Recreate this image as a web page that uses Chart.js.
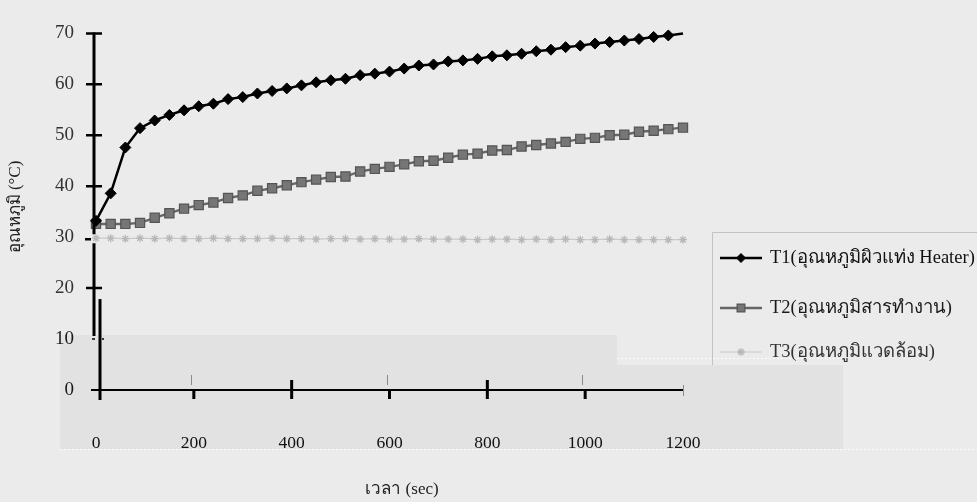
<!DOCTYPE html>
<html>
<head>
<meta charset="utf-8">
<script src="https://cdn.jsdelivr.net/npm/chart.js@4.4.0/dist/chart.umd.min.js"></script>
<style>
  html, body { margin: 0; padding: 0; background: #ebebeb; }
  canvas { display: block; }
</style>
</head>
<body>
<canvas id="chart" width="977" height="502"></canvas>
<script>
// Time axis (seconds) and the three measured temperatures (°C)
const timeSec = [0, 30, 60, 90, 120, 150, 180, 210, 240, 270, 300, 330, 360, 390, 420, 450, 480,
  510, 540, 570, 600, 630, 660, 690, 720, 750, 780, 810, 840, 870, 900, 930, 960, 990, 1020, 1050,
  1080, 1110, 1140, 1170, 1200];
const t1Heater = [33.2, 38.6, 47.6, 51.4, 52.9, 54.0, 54.9, 55.7, 56.2, 57.1, 57.5, 58.2, 58.7, 59.2,
  59.8, 60.4, 60.8, 61.1, 61.8, 62.1, 62.5, 63.1, 63.7, 63.9, 64.5, 64.7, 65.0, 65.5, 65.7, 66.0,
  66.5, 66.8, 67.3, 67.6, 68.0, 68.3, 68.6, 68.9, 69.3, 69.6, 70.0];
const t2Fluid = [32.6, 32.6, 32.6, 32.8, 33.8, 34.7, 35.6, 36.3, 36.8, 37.7, 38.2, 39.1, 39.6, 40.2,
  40.8, 41.3, 41.8, 41.9, 42.9, 43.4, 43.8, 44.3, 44.9, 45.0, 45.6, 46.2, 46.4, 47.0, 47.1, 47.8,
  48.1, 48.4, 48.7, 49.3, 49.5, 50.0, 50.1, 50.7, 50.9, 51.2, 51.5];
const t3Ambient = [29.8, 29.8, 29.7, 29.8, 29.7, 29.8, 29.7, 29.7, 29.8, 29.7, 29.7, 29.7, 29.8, 29.7,
  29.7, 29.6, 29.7, 29.7, 29.6, 29.7, 29.6, 29.6, 29.7, 29.6, 29.6, 29.6, 29.5, 29.6, 29.6, 29.5,
  29.6, 29.5, 29.6, 29.5, 29.5, 29.6, 29.5, 29.5, 29.5, 29.5, 29.5];

const seriesNames = ['T1(อุณหภูมิผิวแท่ง Heater)', 'T2(อุณหภูมิสารทำงาน)', 'T3(อุณหภูมิแวดล้อม)'];
const xTickLabels = ['0', '200', '400', '600', '800', '1000', '1200'];
const yTickLabels = ['0', '10', '20', '30', '40', '50', '60', '70'];
const xTitle = 'เวลา (sec)';
const yTitle = 'อุณหภูมิ (°C)';

const SERIF = '"Liberation Serif", "Times New Roman", serif';

const toPoints = (vals) => vals.map((v, i) => ({ x: timeSec[i], y: v }));

// Paper background plus the light panel under the lower axis
const paperPlugin = {
  id: 'paper',
  beforeDraw(chart) {
    const ctx = chart.ctx;
    ctx.save();
    ctx.fillStyle = '#ebebeb';
    ctx.fillRect(0, 0, chart.width, chart.height);
    ctx.fillStyle = '#e2e2e2';
    ctx.fillRect(60, 335, 557, 114);
    ctx.fillRect(617, 365, 226, 84);
    ctx.strokeStyle = 'rgba(255,255,255,0.8)';
    ctx.lineWidth = 1;
    ctx.setLineDash([2, 2]);
    ctx.beginPath();
    ctx.moveTo(60, 449.5); ctx.lineTo(977, 449.5);
    ctx.moveTo(617, 358.5); ctx.lineTo(843, 358.5);
    ctx.stroke();
    ctx.restore();
  }
};

// Axis lines, tick marks, titles and the legend
const framePlugin = {
  id: 'frame',
  afterDraw(chart) {
    const ctx = chart.ctx;
    const xs = chart.scales.x, ys = chart.scales.y;
    const X0 = xs.getPixelForValue(0);
    const Y0 = ys.getPixelForValue(0);
    const xu = X0 - 2;   // upper vertical axis
    const xl = X0 + 4;   // lower vertical axis
    ctx.save();
    ctx.strokeStyle = '#000';
    ctx.lineCap = 'butt';

    // upper vertical axis (broken just above 30)
    ctx.lineWidth = 3;
    ctx.beginPath();
    ctx.moveTo(xu, ys.getPixelForValue(70) - 1);
    ctx.lineTo(xu, ys.getPixelForValue(30) - 3);
    ctx.moveTo(xu, ys.getPixelForValue(30) + 6);
    ctx.lineTo(xu, ys.getPixelForValue(10) - 3);
    ctx.stroke();
    ctx.lineWidth = 2.5;
    ctx.beginPath();
    [70, 60, 50, 40, 20].forEach(v => {
      const y = ys.getPixelForValue(v);
      ctx.moveTo(xu - 8, y); ctx.lineTo(xu + 8, y);
    });
    const y30 = ys.getPixelForValue(30) + 2;
    ctx.moveTo(xu - 9, y30); ctx.lineTo(xu - 3, y30);
    ctx.stroke();

    // small dashes at 10
    ctx.lineWidth = 1.5;
    const y10 = ys.getPixelForValue(10);
    ctx.beginPath();
    ctx.moveTo(xl - 8, y10); ctx.lineTo(xl - 5, y10);
    ctx.moveTo(xl + 2, y10); ctx.lineTo(xl + 4, y10);
    ctx.stroke();

    // lower vertical axis
    ctx.lineWidth = 3;
    ctx.beginPath();
    ctx.moveTo(xl, y10 - 40);
    ctx.lineTo(xl, Y0 + 10);
    ctx.stroke();

    // horizontal axis
    ctx.lineWidth = 2.2;
    ctx.beginPath();
    ctx.moveTo(X0 - 5, Y0);
    ctx.lineTo(xs.getPixelForValue(1200), Y0);
    ctx.stroke();

    // x tick marks
    ctx.lineWidth = 3;
    ctx.beginPath();
    [200, 400, 600, 800, 1000].forEach(v => {
      const x = xs.getPixelForValue(v);
      const up = (v === 400 || v === 800) ? 10 : 0;
      ctx.moveTo(x, Y0 - up); ctx.lineTo(x, Y0 + 9);
    });
    ctx.stroke();
    ctx.strokeStyle = '#8a8a8a';
    ctx.lineWidth = 1;
    ctx.beginPath();
    [200, 600, 1000].forEach(v => {
      const x = Math.round(xs.getPixelForValue(v)) - 2.5;
      ctx.moveTo(x, Y0 - 15); ctx.lineTo(x, Y0 - 5);
    });
    const x12 = Math.round(xs.getPixelForValue(1200)) + 0.5;
    ctx.moveTo(x12, Y0 - 5); ctx.lineTo(x12, Y0 + 6);
    ctx.stroke();

    // axis titles
    ctx.fillStyle = '#222';
    ctx.font = '17px ' + SERIF;
    ctx.textAlign = 'center';
    ctx.textBaseline = 'middle';
    ctx.fillText(xTitle, 402, 490);
    ctx.save();
    ctx.translate(16, 207);
    ctx.rotate(-Math.PI / 2);
    ctx.fillText(yTitle, 0, 0);
    ctx.restore();

    // legend
    ctx.strokeStyle = '#c2c2c2';
    ctx.lineWidth = 1;
    ctx.beginPath();
    ctx.moveTo(990, 232.5); ctx.lineTo(712.5, 232.5); ctx.lineTo(712.5, 365);
    ctx.stroke();
    const rows = [258, 308, 352];
    const textColors = ['#111', '#1a1a1a', '#333'];
    chart.data.datasets.forEach((ds, i) => {
      const y = rows[i];
      ctx.strokeStyle = ds.borderColor;
      ctx.lineWidth = ds.borderWidth;
      ctx.beginPath();
      ctx.moveTo(720, y); ctx.lineTo(762, y);
      ctx.stroke();
      ctx.fillStyle = ds.pointBackgroundColor;
      ctx.strokeStyle = ds.pointBorderColor;
      ctx.lineWidth = ds.pointBorderWidth;
      if (Chart.helpers && Chart.helpers.drawPoint) {
        Chart.helpers.drawPoint(ctx, {
          pointStyle: ds.pointStyle, radius: ds.legendRadius, rotation: 0,
          borderWidth: ds.pointBorderWidth
        }, 741, y);
      }
      ctx.fillStyle = textColors[i];
      ctx.font = '18.5px ' + SERIF;
      ctx.textAlign = 'left';
      ctx.textBaseline = 'middle';
      ctx.fillText(ds.label, 770, y);
    });
    ctx.restore();
  }
};

const lastIndex = timeSec.length - 1;

new Chart(document.getElementById('chart'), {
  type: 'line',
  data: {
    datasets: [
      {
        label: seriesNames[0],
        data: toPoints(t1Heater),
        borderColor: '#000',
        borderWidth: 2.5,
        pointStyle: 'rectRot',
        pointRadius: (c) => c.dataIndex === lastIndex ? 0 : 5.5,
        legendRadius: 4.5,
        pointBackgroundColor: '#000',
        pointBorderColor: '#000',
        pointBorderWidth: 1,
        tension: 0,
        clip: false,
        order: 1
      },
      {
        label: seriesNames[1],
        data: toPoints(t2Fluid),
        borderColor: '#666',
        borderWidth: 2.4,
        pointStyle: 'rect',
        pointRadius: 6.5,
        legendRadius: 5.5,
        pointBackgroundColor: '#767676',
        pointBorderColor: '#545454',
        pointBorderWidth: 1.2,
        tension: 0,
        clip: false,
        order: 2
      },
      {
        label: seriesNames[2],
        data: toPoints(t3Ambient),
        borderColor: '#cacaca',
        borderWidth: 1.2,
        pointStyle: 'star',
        pointRadius: 4,
        legendRadius: 4,
        pointBackgroundColor: '#c0c0c0',
        pointBorderColor: '#b8b8b8',
        pointBorderWidth: 1.3,
        tension: 0,
        clip: false,
        order: 3
      }
    ]
  },
  options: {
    responsive: false,
    animation: false,
    events: [],
    layout: { padding: { top: 19, right: 294, bottom: 0, left: 0 } },
    plugins: {
      legend: { display: false },
      tooltip: { enabled: false }
    },
    scales: {
      x: {
        type: 'linear',
        min: 0, max: 1200,
        grid: { display: false, drawTicks: false },
        border: { display: false },
        afterFit: (s) => { s.height = 112; },
        afterBuildTicks: (s) => { s.ticks = xTickLabels.map(t => ({ value: Number(t) })); },
        ticks: {
          padding: 43,
          maxRotation: 0,
          autoSkip: false,
          color: '#111',
          font: { family: SERIF, size: 17.5 },
          callback: (v) => xTickLabels[xTickLabels.indexOf(String(v))]
        }
      },
      y: {
        type: 'linear',
        min: 0, max: 70,
        grid: { display: false, drawTicks: false },
        border: { display: false },
        afterFit: (s) => { s.width = 96; },
        afterBuildTicks: (s) => { s.ticks = yTickLabels.map(t => ({ value: Number(t) })); },
        ticks: {
          padding: 22,
          autoSkip: false,
          color: (c) => c.tick && c.tick.value >= 20 ? '#333' : '#1a1a1a',
          font: { family: SERIF, size: 19 },
          callback: (v) => yTickLabels[yTickLabels.indexOf(String(v))]
        }
      }
    }
  },
  plugins: [paperPlugin, framePlugin]
});
</script>
</body>
</html>
